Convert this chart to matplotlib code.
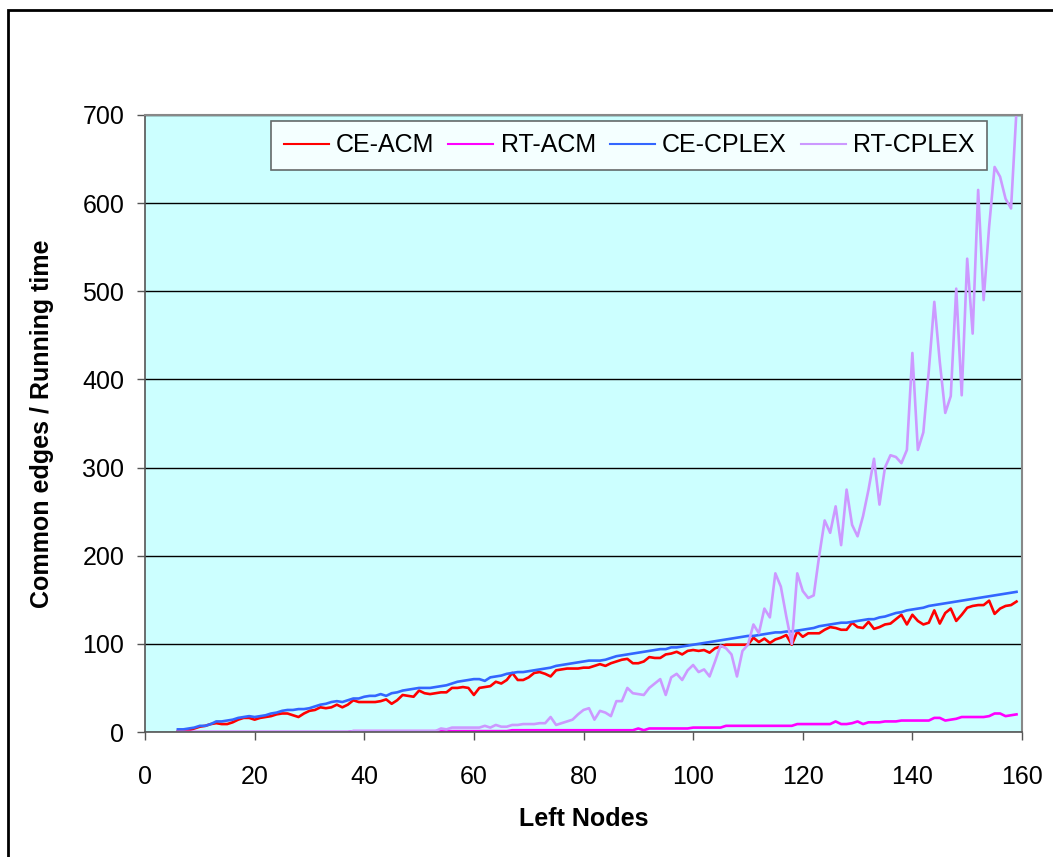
import numpy as np
import matplotlib
matplotlib.use("Agg")
import matplotlib.pyplot as plt
from matplotlib.patches import Rectangle

plt.rcParams['font.family'] = ['Liberation Sans', 'DejaVu Sans']

# left nodes 6..159
left_nodes = np.arange(6, 160)

ce_acm = [
    1, 1, 2, 4, 6, 7, 9, 10, 9, 9,
    11, 14, 16, 16, 14, 16, 17, 18, 20, 21,
    21, 19, 17, 21, 24, 25, 28, 27, 28, 31,
    28, 31, 36, 34, 34, 34, 34, 35, 37, 32,
    36, 42, 41, 40, 47, 44, 43, 44, 45, 45,
    50, 50, 51, 50, 42, 50, 51, 52, 57, 55,
    59, 67, 59, 59, 62, 67, 68, 66, 63, 70,
    71, 72, 72, 72, 73, 73, 75, 77, 75, 78,
    80, 82, 83, 78, 78, 80, 85, 84, 84, 88,
    89, 91, 88, 92, 93, 92, 93, 90, 95, 97,
    99, 99, 99, 99, 99, 107, 102, 106, 101, 105,
    107, 110, 99, 114, 108, 112, 112, 112, 116, 119,
    118, 116, 116, 124, 119, 118, 125, 117, 119, 122,
    123, 128, 133, 122, 133, 126, 122, 124, 138, 123,
    135, 140, 126, 133, 141, 143, 144, 144, 149, 134,
    140, 143, 144, 148,
]

rt_acm = [
    0, 0, 0, 0, 0, 0, 0, 0, 0, 0,
    0, 0, 0, 0, 0, 0, 0, 0, 0, 0,
    0, 0, 0, 0, 0, 0, 0, 0, 0, 0,
    0, 0, 1, 1, 1, 1, 1, 1, 1, 1,
    1, 1, 1, 1, 1, 1, 1, 1, 1, 1,
    1, 1, 1, 1, 1, 1, 1, 1, 1, 1,
    1, 2, 2, 2, 2, 2, 2, 2, 2, 2,
    2, 2, 2, 2, 2, 2, 2, 2, 2, 2,
    2, 2, 2, 2, 4, 2, 4, 4, 4, 4,
    4, 4, 4, 4, 5, 5, 5, 5, 5, 5,
    7, 7, 7, 7, 7, 7, 7, 7, 7, 7,
    7, 7, 7, 9, 9, 9, 9, 9, 9, 9,
    12, 9, 9, 10, 12, 9, 11, 11, 11, 12,
    12, 12, 13, 13, 13, 13, 13, 13, 16, 16,
    13, 14, 15, 17, 17, 17, 17, 17, 18, 21,
    21, 18, 19, 20,
]

ce_cplex = [
    3, 3, 4, 5, 7, 7, 9, 12, 12, 13,
    14, 16, 17, 18, 17, 18, 19, 21, 22, 24,
    25, 25, 26, 26, 27, 29, 31, 32, 34, 35,
    34, 36, 38, 38, 40, 41, 41, 43, 41, 44,
    45, 47, 48, 49, 50, 50, 50, 51, 52, 53,
    55, 57, 58, 59, 60, 60, 58, 62, 63, 64,
    66, 67, 68, 68, 69, 70, 71, 72, 73, 75,
    76, 77, 78, 79, 80, 81, 81, 81, 82, 84,
    86, 87, 88, 89, 90, 91, 92, 93, 94, 94,
    96, 96, 97, 98, 99, 100, 101, 102, 103, 104,
    105, 106, 107, 108, 109, 109, 110, 111, 112, 113,
    113, 114, 114, 115, 116, 117, 118, 120, 121, 122,
    123, 124, 124, 125, 126, 127, 128, 128, 130, 131,
    133, 135, 136, 138, 139, 140, 141, 143, 144, 145,
    146, 147, 148, 149, 150, 151, 152, 153, 154, 155,
    156, 157, 158, 159,
]

rt_cplex = [
    0, 0, 0, 0, 0, 0, 0, 0, 0, 0,
    0, 0, 0, 0, 0, 0, 0, 0, 0, 0,
    0, 0, 0, 0, 0, 0, 0, 0, 0, 0,
    0, 0, 1, 1, 1, 1, 1, 1, 1, 1,
    1, 1, 1, 1, 1, 1, 1, 1, 4, 3,
    5, 5, 5, 5, 5, 5, 7, 5, 8, 6,
    6, 8, 8, 9, 9, 9, 10, 10, 17, 8,
    10, 12, 14, 20, 25, 27, 14, 24, 22, 18,
    35, 35, 50, 44, 43, 42, 50, 55, 60, 42,
    62, 66, 59, 70, 76, 68, 71, 63, 80, 98,
    95, 88, 63, 92, 99, 122, 112, 140, 130, 180,
    165, 131, 100, 180, 160, 152, 155, 200, 240, 226,
    256, 212, 275, 235, 222, 245, 275, 310, 258, 300,
    314, 312, 305, 320, 430, 320, 340, 410, 488, 420,
    362, 381, 503, 382, 537, 452, 615, 490, 573, 641,
    630, 605, 594, 706,
]

series_names = ['CE-ACM', 'RT-ACM', 'CE-CPLEX', 'RT-CPLEX']
series_colors = ['#FF0000', '#FF00FF', '#3366FF', '#CC99FF']

W, H = 1053, 857
fig = plt.figure(figsize=(W / 100, H / 100), dpi=100)
ax = fig.add_axes([145 / W, 1 - 732 / H, (1022 - 145) / W, (732 - 115) / H])
ax.set_facecolor('#CCFFFF')

for vals, name, col in zip([ce_acm, rt_acm, ce_cplex, rt_cplex], series_names, series_colors):
    ax.plot(left_nodes, vals, color=col, lw=1.9, label=name, solid_joinstyle='round')

ax.set_xlim(0, 160)
ax.set_ylim(0, 700)
ax.set_xticks(range(0, 161, 20))
ax.set_yticks(range(0, 701, 100))
ax.yaxis.grid(True, color='black', lw=1)
ax.set_axisbelow(True)
ax.tick_params(axis='both', labelsize=18, direction='out', length=6, width=1, colors='#555555', labelcolor='black')
ax.tick_params(axis='y', pad=9)
ax.tick_params(axis='x', pad=18)

for s in ['top', 'right']:
    ax.spines[s].set_color('#888888')
    ax.spines[s].set_linewidth(1.5)
for s in ['left', 'bottom']:
    ax.spines[s].set_color('#555555')
    ax.spines[s].set_linewidth(1.2)

ax.set_xlabel('Left Nodes', fontsize=18, fontweight='bold', labelpad=13)
ax.set_ylabel('Common edges / Running time', fontsize=18, fontweight='bold', labelpad=20)

leg = fig.legend(loc='upper right', bbox_to_anchor=(987 / W, 1 - 121 / H), ncol=4,
                 fontsize=18, frameon=True, fancybox=False, handlelength=1.8,
                 columnspacing=0.55, handletextpad=0.3, borderpad=0.5, borderaxespad=0)
leg.get_frame().set_edgecolor('#444444')
leg.get_frame().set_linewidth(1.2)
for line in leg.get_lines():
    line.set_linewidth(1.5)

# outer chart border
fig.patches.append(Rectangle((8 / W, -0.05), 1.2, 1 - 10 / H + 0.05, transform=fig.transFigure,
                             fill=False, edgecolor='black', lw=2))

fig.savefig('out.png', dpi=100)
